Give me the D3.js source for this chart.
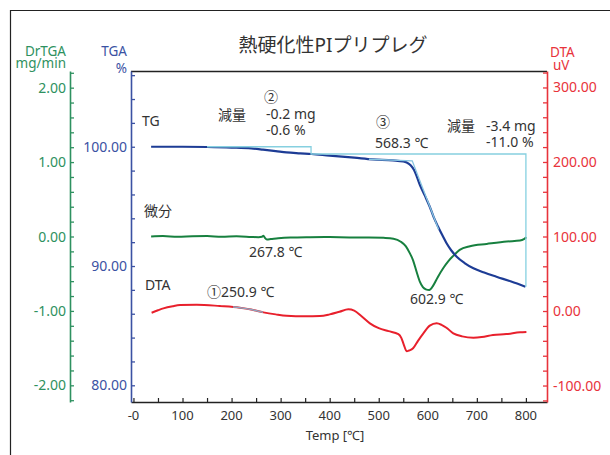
<!DOCTYPE html>
<html><head><meta charset="utf-8">
<script src="https://cdn.jsdelivr.net/npm/d3@7"></script>
<style>
body{margin:0;background:#fff;}
svg{display:block;font-family:"Noto Sans","Noto Sans CJK JP",sans-serif;}
</style></head>
<body><svg id="c" width="610" height="455"></svg>
<script>
// ---------- data ----------
const title = "熱硬化性PIプリプレグ";
const xTicks = [0,100,200,300,400,500,600,700,800];
const xTickLabels = ["-0","100","200","300","400","500","600","700","800"];
const tgaTicks = [80,90,100];
const drTicks = [-2,-1,0,1,2];
const dtaTicks = [-100,0,100,200,300];

const tgTemp = [36,100,150,200,240,264,290,312,340,363,400,450,488,529,550,557,565,572,578,584,594,604,612,621,630,638,648,659,675,693,715,740,770,799];
const tgPct  = [100.0,100.0,99.98,99.93,99.86,99.76,99.64,99.53,99.45,99.39,99.25,99.08,98.94,98.86,98.77,98.68,98.45,98.05,97.45,96.79,95.9,94.97,94.1,93.29,92.55,91.93,91.3,90.78,90.25,89.81,89.45,89.10,88.7,88.27];

const drTemp = [36,60,90,120,150,180,210,240,255,262,265,268,272,280,295,320,360,400,440,480,510,530,545,555,563,570,577,584,590,596,603,611,620,632,642,652,665,686,720,761,788,796,801];
const drVal  = [0.0,0.006,-0.004,0.003,0.006,-0.004,0.002,-0.006,-0.01,-0.004,0.01,-0.018,-0.04,-0.035,-0.025,-0.015,-0.01,-0.008,-0.012,-0.012,-0.018,-0.03,-0.07,-0.13,-0.22,-0.32,-0.47,-0.61,-0.68,-0.71,-0.72,-0.66,-0.55,-0.42,-0.33,-0.26,-0.18,-0.13,-0.10,-0.067,-0.054,-0.035,-0.01];

const dtaTemp = [37,50,61,80,95,129,176,217,240,265,290,312,350,380,400,420,438,450,465,482,500,520,540,546,551,557,562,570,580,591,604,618,628,638,652,670,693,710,733,760,788,801];
const dtaVal  = [-2.3,1.0,3.6,6.5,8.0,8.5,6.7,4.4,2.0,-1.8,-4.5,-6.3,-7.0,-6.7,-4.5,-1.0,2.3,0.5,-7.0,-16.5,-23.0,-27.0,-31.0,-36.0,-45.0,-54.0,-53.0,-50.0,-40.0,-30.0,-19.7,-16.5,-18.5,-22.4,-30.0,-34.0,-35.8,-35.0,-32.2,-31.0,-28.5,-28.0];

// tangent / step construction lines (light cyan)
const stepTemp = [150,362,362,800,800];
const stepPct  = [100.0,100.0,99.39,99.39,88.27];
const tanTemp  = [480,568.3,622];
const tanPct   = [98.95,98.82,93.07];

// annotations: each entry is one text; extra lines go in tspans
const annotations = [
  {lines:["TG"],x:142,y:126},
  {lines:["微分"],x:144,y:216},
  {lines:["DTA"],x:145,y:290},
  {lines:["減量"],x:218,y:120},
  {lines:["②"],x:264,y:102},
  {lines:["-0.2 mg","-0.6 %"],x:266,y:119,dy:16},
  {lines:["③"],x:376,y:127},
  {lines:["568.3 ℃"],x:375,y:148},
  {lines:["減量"],x:447,y:131},
  {lines:["-3.4 mg","-11.0 %"],x:486,y:131,dy:16},
  {lines:["267.8 ℃"],x:249,y:257},
  {lines:["602.9 ℃"],x:410,y:304},
  {lines:["①250.9 ℃"],x:207,y:297}
];

// ---------- layout ----------
const L=131,R=547,T=71,B=402;
const GREEN="#2e9160", BLUE="#3b52a3", RED="#e8333b";
const svg=d3.select("#c");

const x=d3.scaleLinear().domain([-5,843]).range([L,R]);
const yT=d3.scaleLinear().domain([78.6,106.35]).range([B,T]);
const yD=d3.scaleLinear().domain([-2.224,2.224]).range([B,T]);
const yA=d3.scaleLinear().domain([-122.1,322.1]).range([B,T]);

// outer frame
svg.append("path").attr("d","M10.5,455 V10.5 H610").attr("fill","none").attr("stroke","#222").attr("stroke-width",1.2);
// plot top border
svg.append("line").attr("x1",L).attr("x2",R).attr("y1",T+0.5).attr("y2",T+0.5).attr("stroke","#222").attr("stroke-width",1.3);

svg.append("text").attr("x",333).attr("y",52).attr("text-anchor","middle").attr("font-size",19).attr("fill","#333").text(title);

// x axis
const xa=svg.append("g").attr("transform",`translate(0,${B})`)
  .call(d3.axisBottom(x).tickValues(d3.range(0,801,50)).tickSizeInner(-4).tickSizeOuter(0).tickFormat(""));
xa.select(".domain").attr("stroke","#222").attr("stroke-width",1.5);
xa.selectAll(".tick line").attr("stroke","#222").attr("stroke-width",1.2);
xTicks.forEach((v,i)=>svg.append("text").attr("x",x(v)).attr("y",420).attr("text-anchor","middle")
  .attr("font-size",13).attr("fill","#333").text(xTickLabels[i]));
svg.append("text").attr("x",335).attr("y",440).attr("text-anchor","middle").attr("font-size",13).attr("fill","#333").text("Temp [℃]");

function styleAxis(g,col){
  g.select(".domain").attr("stroke",col).attr("stroke-width",1.6);
  g.selectAll(".tick line").attr("stroke",col).attr("stroke-width",1.3);
}
// TGA axis (blue)
const ga=svg.append("g").attr("transform",`translate(${L},0)`)
  .call(d3.axisLeft(yT).tickValues(d3.range(80,107,2)).tickSizeInner(-4).tickSizeOuter(0).tickFormat(""));
styleAxis(ga,BLUE);
tgaTicks.forEach(v=>svg.append("text").attr("x",127).attr("y",yT(v)+5).attr("text-anchor","end").attr("font-size",14).attr("fill",BLUE).text(v.toFixed(2)));
// DrTGA axis (green)
const gd=svg.append("g").attr("transform",`translate(70,0)`)
  .call(d3.axisLeft(yD).tickValues(d3.range(-11,12).map(d=>d*0.2)).tickSizeInner(-4).tickSizeOuter(0).tickFormat(""));
styleAxis(gd,GREEN);
drTicks.forEach(v=>svg.append("text").attr("x",66).attr("y",yD(v)+5).attr("text-anchor","end").attr("font-size",14).attr("fill",GREEN).text(v.toFixed(2)));
// DTA axis (red)
const gr=svg.append("g").attr("transform",`translate(${R},0)`)
  .call(d3.axisRight(yA).tickValues(d3.range(-120,321,20)).tickSizeInner(-4).tickSizeOuter(0).tickFormat(""));
styleAxis(gr,RED);
dtaTicks.forEach(v=>svg.append("text").attr("x",553).attr("y",yA(v)+5).attr("text-anchor","start").attr("font-size",14).attr("fill",RED).text(v.toFixed(2)));

// axis titles (two-line, one text element each)
function at(l1,l2,xx,yy,dy,col,anchor,x2){
  const t=svg.append("text").attr("x",xx).attr("y",yy).attr("text-anchor",anchor).attr("font-size",13.5).attr("fill",col);
  t.append("tspan").attr("x",xx).text(l1);
  t.append("tspan").attr("x",x2).attr("dy",dy).text(l2);
}
at("DrTGA","mg/min",66,56,12,GREEN,"end",66);
at("TGA","%",127,56,17,BLUE,"end",127);
at("DTA","uV",550,57,13,RED,"start",553);

// curves
const mk=(xs,ys)=>xs.map((v,i)=>[v,ys[i]]);
const line=(ys)=>d3.line().x(d=>x(d[0])).y(d=>ys(d[1])).curve(d3.curveMonotoneX);
const tg=mk(tgTemp,tgPct), dr=mk(drTemp,drVal), dta=mk(dtaTemp,dtaVal);

svg.append("path").datum(dta).attr("d",line(yA)).attr("fill","none").attr("stroke","#e8202c").attr("stroke-width",2);
svg.append("clipPath").attr("id","seg").append("rect").attr("x",x(203)).attr("y",T).attr("width",x(264)-x(203)).attr("height",B-T);
svg.append("path").datum(dta).attr("d",line(yA)).attr("fill","none").attr("stroke","#8fa6c0").attr("stroke-width",1.6).attr("clip-path","url(#seg)");

svg.append("path").datum(dr).attr("d",line(yD)).attr("fill","none").attr("stroke","#17803f").attr("stroke-width",2);
svg.append("path").datum(tg).attr("d",line(yT)).attr("fill","none").attr("stroke","#1d3c95").attr("stroke-width",2.2);

const straight=d3.line().x(d=>x(d[0])).y(d=>yT(d[1]));
svg.append("path").datum(mk(stepTemp,stepPct)).attr("d",straight).attr("fill","none").attr("stroke","#86d0e0").attr("stroke-width",1.3);
svg.append("path").datum(mk(tanTemp,tanPct)).attr("d",straight).attr("fill","none").attr("stroke","#86c4e0").attr("stroke-width",1.3);

annotations.forEach(a=>{
  const t=svg.append("text").attr("x",a.x).attr("y",a.y).attr("font-size",14).attr("fill","#333");
  a.lines.forEach((s,i)=>t.append("tspan").attr("x",a.x).attr("dy",i?a.dy:0).text(s));
});
</script></body></html>
